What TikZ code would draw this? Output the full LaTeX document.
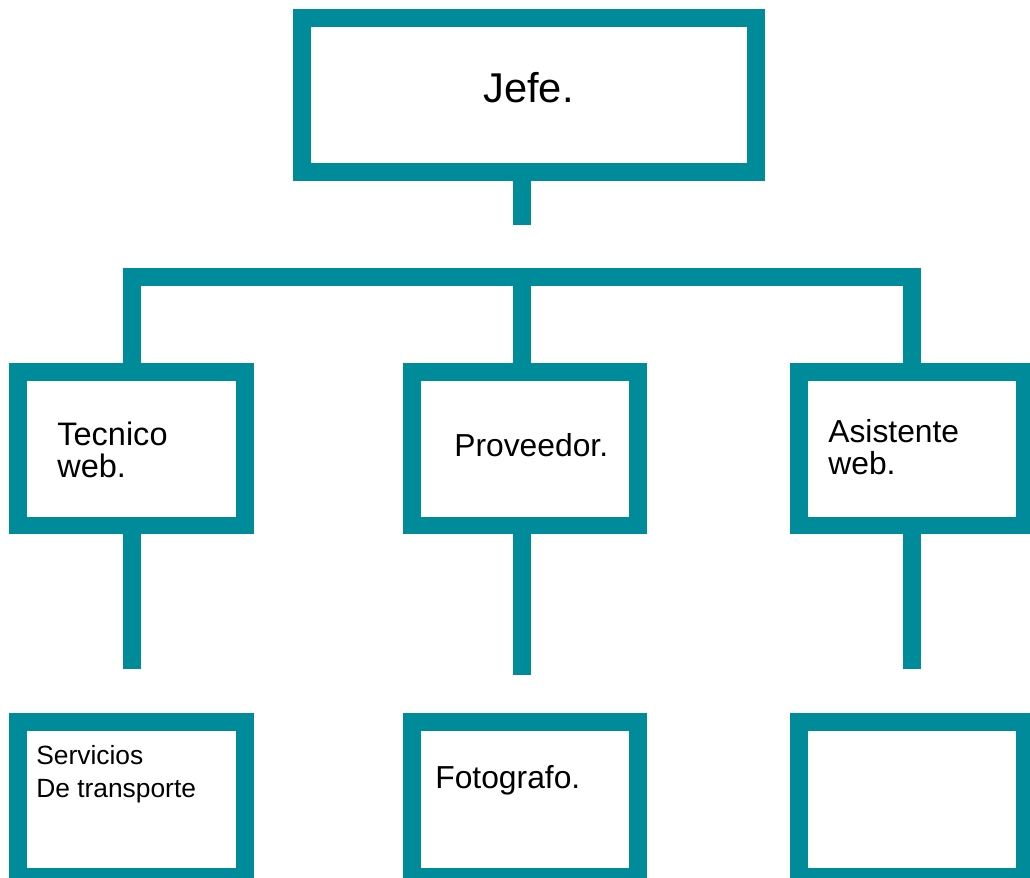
\documentclass[tikz,border=0pt]{standalone}
\usepackage{fontspec}
\setmainfont{Liberation Sans}
\definecolor{orgteal}{RGB}{0,139,154}
\tikzset{
  orgbox/.style={draw=orgteal,line width=0.36cm,minimum width=4.54cm,minimum height=3.08cm,inner sep=0pt},
  orgline/.style={draw=orgteal,line width=0.36cm},
  orgtext/.style={anchor=north west,inner sep=0pt,align=left}
}
\begin{document}
\begin{tikzpicture}[x=0.02cm,y=-0.02cm]
    \useasboundingbox (0,0) rectangle (1030,877);
    \clip (0,0) rectangle (1030,877);
    \node[orgbox,minimum width=9.08cm] (jefe) at (529,95) {};
    \node[orgbox] (tecnico) at (131.5,448.5) {};
    \node[orgbox] (proveedor) at (525,448.5) {};
    \node[orgbox] (asistente) at (912,448.5) {};
    \node[orgbox,minimum height=3.1cm] (servicios) at (131.5,799.5) {};
    \node[orgbox,minimum height=3.1cm] (fotografo) at (525,799.5) {};
    \node[orgbox,minimum height=3.1cm] (vacio) at (912,799.5) {};
    % lines
    \coordinate (bar) at (522,276.5);
    \coordinate (jefeend) at (522,225);
    \coordinate (tecnicoend) at (132,669);
    \coordinate (proveedorend) at (522,675);
    \coordinate (asistenteend) at (912,669);
    \draw[orgline] (jefe.south -| jefeend) -- (jefeend);
    \draw[orgline] (tecnico.north) |- (bar) -| (asistente.north);
    \draw[orgline] (bar) -- (bar |- proveedor.north);
    \draw[orgline] (tecnico.south -| tecnicoend) -- (tecnicoend);
    \draw[orgline] (proveedor.south -| proveedorend) -- (proveedorend);
    \draw[orgline] (asistente.south) -- (asistenteend);
    % texts
    \node[orgtext,font=\fontsize{23.7}{28}\selectfont] (jefetxt) at (483,72) {Jefe.};
    \node[orgtext,font=\fontsize{18.5}{18.1}\selectfont] (tecnicotxt) at (57,422) {Tecnico\\web.};
    \node[orgtext,font=\fontsize{18.1}{18.1}\selectfont] (proveedortxt) at (454,433) {Proveedor.};
    \node[orgtext,font=\fontsize{18.1}{18.1}\selectfont] (asistentetxt) at (828,419) {Asistente\\web.};
    \node[orgtext,font=\fontsize{15}{18.7}\selectfont] (serviciostxt) at (36,745) {Servicios\\De transporte};
    \node[orgtext,font=\fontsize{18.1}{18}\selectfont] (fotografotxt) at (435,765) {Fotografo.};
\end{tikzpicture}
\end{document}
